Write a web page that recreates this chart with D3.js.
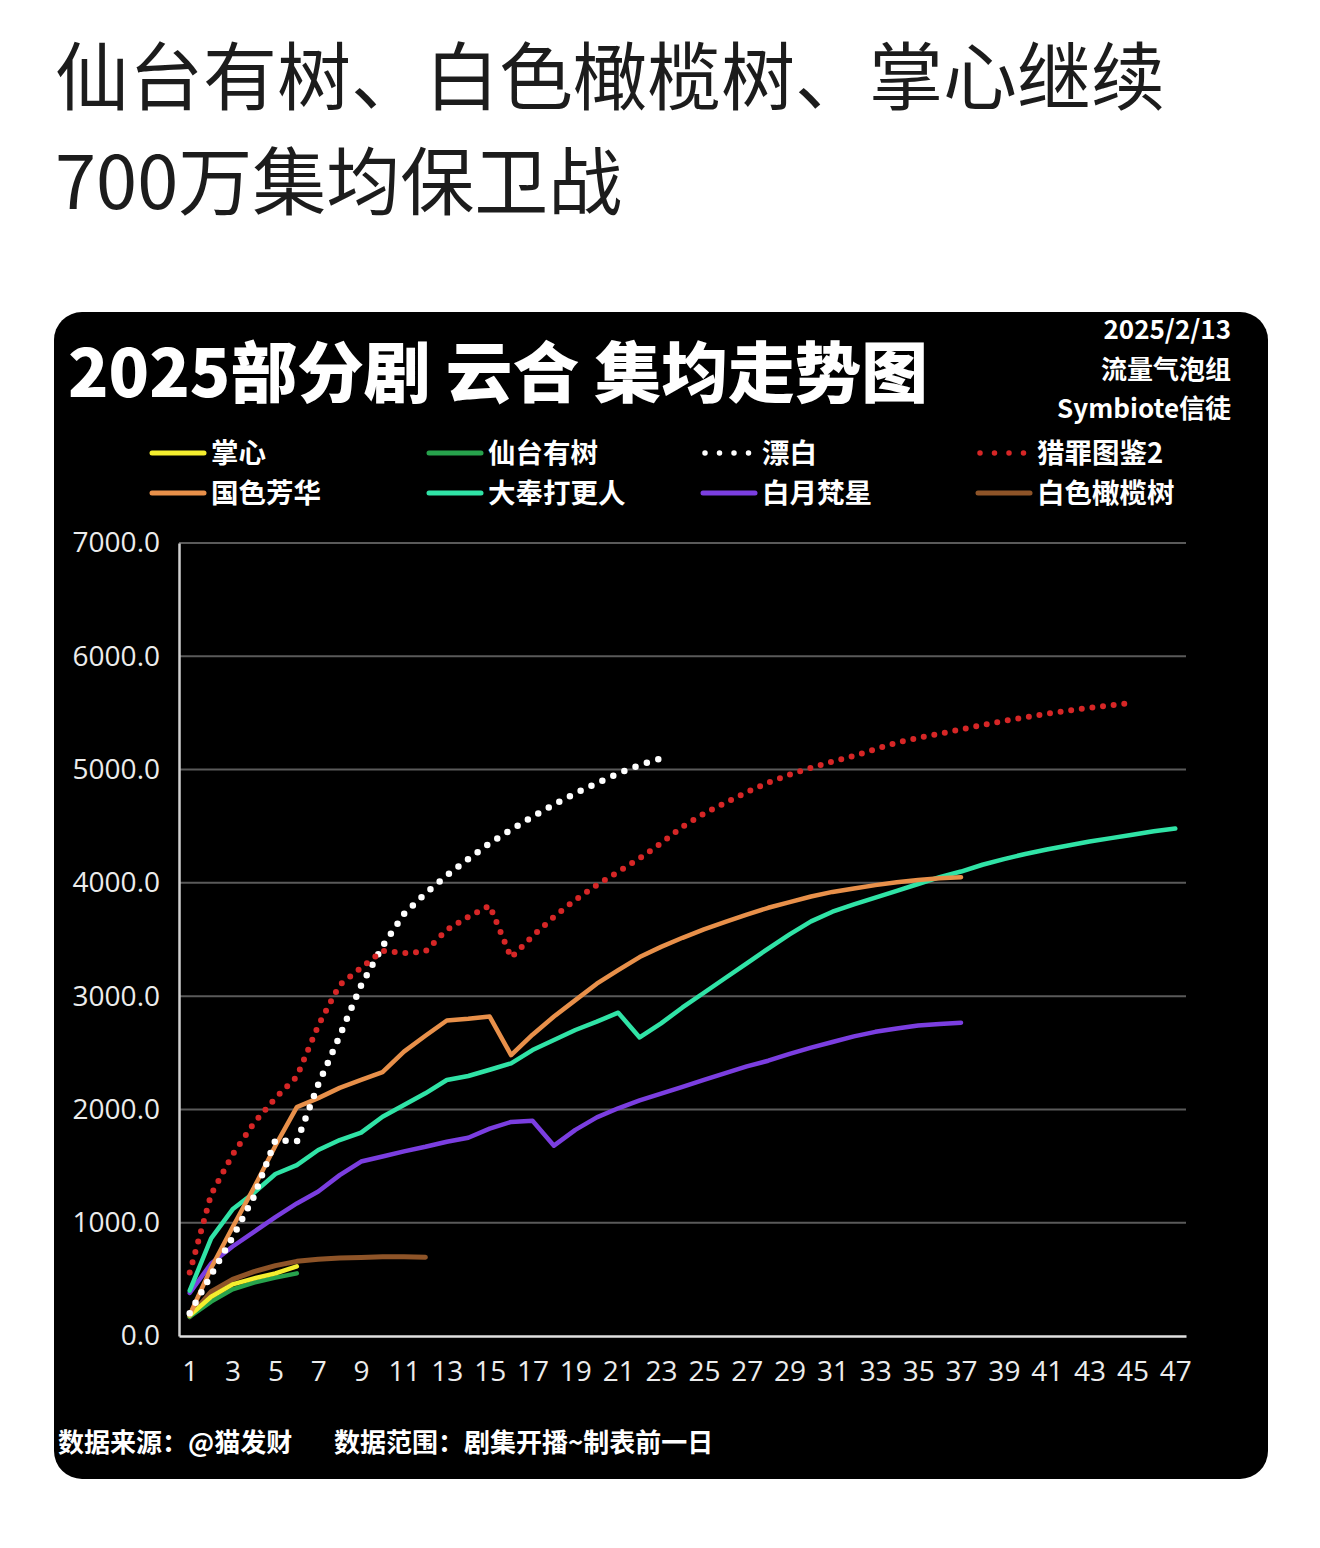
<!DOCTYPE html>
<html><head><meta charset="utf-8">
<script src="https://cdn.jsdelivr.net/npm/d3@7/dist/d3.min.js"></script>
<style>
html,body{margin:0;padding:0;background:#fff;}
svg{display:block;}
</style></head>
<body>
<svg id="c" width="1320" height="1548"></svg>
<script>
// ---------- data ----------
const episodes = [1,2,3,4,5,6,7,8,9,10,11,12,13,14,15,16,17,18,19,20,21,22,23,24,25,26,27,28,29,30,31,32,33,34,35,36,37,38,39,40,41,42,43,44,45,46,47];
const xTickLabels = [1,3,5,7,9,11,13,15,17,19,21,23,25,27,29,31,33,35,37,39,41,43,45,47];
const yTickValues = [0,1000,2000,3000,4000,5000,6000,7000];

const seriesNames = ["掌心","仙台有树","漂白","猎罪图鉴2","国色芳华","大奉打更人","白月梵星","白色橄榄树"];

const zhangxin = [180, 347, 456, 509, 553, 615];
const xiantai = [170, 303, 412, 471, 515, 553];
const piaobai = [200, 540, 870, 1230, 1730, 1715, 2220, 2650, 3095, 3440, 3725, 3907, 4065, 4210, 4350, 4470, 4585, 4690, 4790, 4880, 4965, 5040, 5100];
const liezui2 = [560, 1250, 1600, 1880, 2100, 2290, 2740, 3100, 3250, 3400, 3380, 3395, 3585, 3700, 3800, 3340, 3530, 3700, 3850, 3980, 4098, 4216, 4350, 4496, 4610, 4708, 4800, 4885, 4955, 5015, 5070, 5120, 5180, 5238, 5280, 5315, 5355, 5393, 5430, 5462, 5492, 5520, 5545, 5567, 5590];
const guose = [185, 600, 960, 1310, 1680, 2020, 2100, 2190, 2260, 2330, 2510, 2650, 2785, 2800, 2820, 2480, 2660, 2820, 2965, 3110, 3230, 3345, 3435, 3515, 3590, 3655, 3720, 3780, 3830, 3880, 3920, 3950, 3980, 4005, 4025, 4040, 4050];
const dafeng = [400, 862, 1118, 1265, 1430, 1509, 1642, 1730, 1795, 1936, 2039, 2142, 2260, 2295, 2350, 2407, 2524, 2613, 2701, 2775, 2854, 2635, 2760, 2900, 3030, 3160, 3290, 3420, 3545, 3660, 3745, 3810, 3870, 3930, 3990, 4050, 4100, 4160, 4210, 4255, 4295, 4330, 4365, 4395, 4425, 4455, 4480];
const baiyue = [380, 640, 790, 920, 1050, 1170, 1275, 1420, 1540, 1585, 1630, 1670, 1715, 1750, 1830, 1890, 1900, 1680, 1820, 1930, 2010, 2080, 2140, 2200, 2260, 2320, 2380, 2430, 2490, 2545, 2595, 2645, 2685, 2715, 2740, 2755, 2765];
const baise = [170, 391, 500, 568, 621, 659, 677, 688, 694, 700, 700, 695];

// ---------- styles ----------
const styles = {
  "掌心":     {data: zhangxin, color:"#f4ee2e", dotted:false, w:4.5},
  "仙台有树": {data: xiantai,  color:"#27a24c", dotted:false, w:4.5},
  "漂白":     {data: piaobai,  color:"#ffffff", dotted:true,  w:6.5, gap:12},
  "猎罪图鉴2":{data: liezui2,  color:"#d62626", dotted:true,  w:6, gap:10.7},
  "国色芳华": {data: guose,    color:"#e8904a", dotted:false, w:4.5},
  "大奉打更人":{data: dafeng,  color:"#30e3a6", dotted:false, w:4.5},
  "白月梵星": {data: baiyue,   color:"#7b3ee0", dotted:false, w:4.5},
  "白色橄榄树":{data: baise,   color:"#8e5428", dotted:false, w:5}
};
const drawOrder = ["白色橄榄树","仙台有树","掌心","白月梵星","大奉打更人","国色芳华","漂白","猎罪图鉴2"];

const svg = d3.select("#c");
const CJK = "'Noto Sans CJK SC','Noto Sans',sans-serif";
const LAT = "'Open Sans','Noto Sans',sans-serif";

// page heading
svg.append("text").attr("x",55).attr("y",104).attr("font-family",CJK).attr("font-size",74)
  .attr("font-weight",400).attr("fill","#1c1c1c").text("仙台有树、白色橄榄树、掌心继续");
svg.append("text").attr("x",55).attr("y",209).attr("font-family",CJK).attr("font-size",74)
  .attr("font-weight",400).attr("fill","#1c1c1c").text("700万集均保卫战");

// black card
svg.append("rect").attr("x",54).attr("y",312).attr("width",1214).attr("height",1167)
  .attr("rx",28).attr("fill","#000");

// chart title
const t = svg.append("text").attr("x",68).attr("y",397).attr("font-family",CJK).attr("font-size",66)
  .attr("font-weight",900).attr("fill","#fff").text("2025部分剧 云合 集均走势图");
const tl = t.node().getComputedTextLength();
if (tl > 0) t.attr("textLength", 860).attr("lengthAdjust","spacingAndGlyphs");

// top right notes
[["2025/2/13",339],["流量气泡组",379],["Symbiote信徒",418]].forEach(([s,y])=>{
  svg.append("text").attr("x",1231).attr("y",y).attr("text-anchor","end").attr("font-family",CJK)
    .attr("font-size",26).attr("font-weight",700).attr("fill","#fff").text(s);
});

// legend
const legendX = [152, 429, 703, 978];
const legendY = [453, 493];
seriesNames.forEach((name,i)=>{
  const st = styles[name];
  const col = i%4, row = Math.floor(i/4);
  const lx = legendX[col], ly = legendY[row];
  const g = svg.append("g");
  if (st.dotted) {
    g.append("line").attr("x1",lx+2).attr("x2",lx+46).attr("y1",ly).attr("y2",ly)
      .attr("stroke",st.color).attr("stroke-width",5.5).attr("stroke-linecap","round")
      .attr("stroke-dasharray","0 14.5");
  } else {
    g.append("line").attr("x1",lx).attr("x2",lx+52).attr("y1",ly).attr("y2",ly)
      .attr("stroke",st.color).attr("stroke-width",5).attr("stroke-linecap","round");
  }
  g.append("text").attr("x",lx+59).attr("y",ly).attr("dy","0.36em").attr("font-family",CJK)
    .attr("font-size",27.5).attr("font-weight",700).attr("fill","#fff").text(name);
});

// scales
const x = d3.scalePoint().domain(episodes).range([179,1186]).padding(0.5);
const y = d3.scaleLinear().domain([0,7000]).range([1336,543]);

// gridlines
svg.append("g").selectAll("line").data(yTickValues.filter(v=>v>0)).join("line")
  .attr("x1",179).attr("x2",1186).attr("y1",d=>y(d)).attr("y2",d=>y(d))
  .attr("stroke","#5a5a5a").attr("stroke-width",2);

// y axis
const yAxis = svg.append("g").attr("transform","translate(179,0)")
  .call(d3.axisLeft(y).tickValues(yTickValues).tickFormat(d3.format(".1f")).tickSize(0).tickPadding(19));
yAxis.select(".domain").attr("stroke","#cfcfcf").attr("stroke-width",2.5);
yAxis.selectAll("text").attr("font-family",LAT).attr("font-size",28).attr("fill","#ececec");

// x axis
const xAxis = svg.append("g").attr("transform","translate(0,1336)")
  .call(d3.axisBottom(x).tickValues(xTickLabels).tickSize(0).tickPadding(25));
xAxis.select(".domain").attr("stroke","#e0e0e0").attr("stroke-width",2.5);
xAxis.selectAll("text").attr("font-family",LAT).attr("font-size",28).attr("fill","#ececec");

// lines
const line = d3.line().x((d,i)=>x(episodes[i])).y(d=>y(d));
drawOrder.forEach(name=>{
  const st = styles[name];
  const p = svg.append("path").datum(st.data).attr("d",line).attr("fill","none")
    .attr("stroke",st.color).attr("stroke-width",st.w)
    .attr("stroke-linejoin","round").attr("stroke-linecap","round");
  if (st.dotted) p.attr("stroke-dasharray","0 "+st.gap);
});

// footer
svg.append("text").attr("x",58).attr("y",1443).attr("dy","0.36em").attr("font-family",CJK)
  .attr("font-size",26).attr("font-weight",700).attr("fill","#fff").text("数据来源：@猫发财");
svg.append("text").attr("x",334).attr("y",1443).attr("dy","0.36em").attr("font-family",CJK)
  .attr("font-size",26).attr("font-weight",700).attr("fill","#fff").text("数据范围：剧集开播~制表前一日");
</script>
</body></html>
